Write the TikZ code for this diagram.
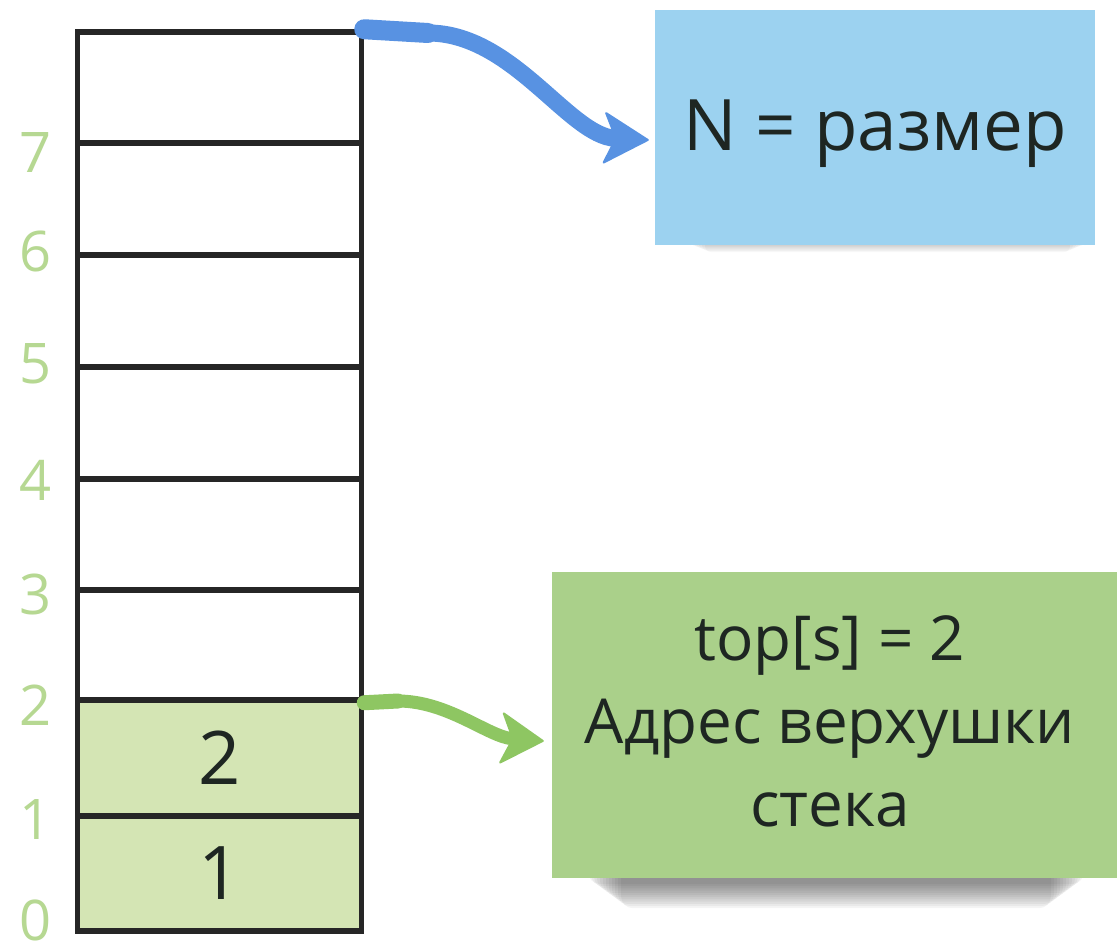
\documentclass[tikz,border=0pt]{standalone}
\usepackage{fontspec}
\setmainfont{Open Sans}
\usetikzlibrary{arrows.meta}

\definecolor{stackline}{RGB}{38,38,38}
\definecolor{idxgreen}{RGB}{182,216,146}
\definecolor{cellgreen}{RGB}{212,229,180}
\definecolor{boxgreen}{RGB}{170,208,138}
\definecolor{boxblue}{RGB}{156,210,240}
\definecolor{arrblue}{RGB}{88,146,226}
\definecolor{arrgreen}{RGB}{142,198,98}
\definecolor{ink}{RGB}{30,38,34}

\begin{document}
\begin{tikzpicture}[x=1pt,y=-1pt,
  cellbox/.style={draw=stackline, line width=5.5pt, minimum width=284pt,
    inner sep=0pt, text=ink, font=\fontsize{74}{74}\selectfont},
  filled/.style={fill=cellgreen},
  idx/.style={text=idxgreen, inner sep=0pt, font=\fontsize{56}{56}\selectfont},
  notebox/.style={inner sep=0pt},
  notetext/.style={inner sep=0pt, text=ink, align=center},
  stub/.style={line width=#1, line cap=round},
  bluetip/.style={-{Stealth[length=47pt, width=54pt, inset=12pt, line width=2pt, round]}},
  greentip/.style={-{Stealth[length=45pt, width=54pt, inset=12pt, line width=2pt, round]}}
]
\useasboundingbox (0,0) rectangle (1117,950);
\fill[white] (0,0) rectangle (1117,950);

% stack cells, bottom (0) to top (7)
\node[cellbox, filled, minimum height=115pt] (c0) at (219.5,873.5) {1};
\node[cellbox, filled, minimum height=116pt] (c1) at (219.5,758) {2};
\node[cellbox, minimum height=110pt] (c2) at (219.5,645) {};
\node[cellbox, minimum height=111pt] (c3) at (219.5,534.5) {};
\node[cellbox, minimum height=112pt] (c4) at (219.5,423) {};
\node[cellbox, minimum height=112pt] (c5) at (219.5,311) {};
\node[cellbox, minimum height=112pt] (c6) at (219.5,199) {};
\node[cellbox, minimum height=111pt] (c7) at (219.5,87.5) {};

% index labels
\node[idx] (i0) at (36,920) {0};
\node[idx] (i1) at (36,820) {1};
\node[idx] (i2) at (36,705) {2};
\node[idx] (i3) at (36,594) {3};
\node[idx] (i4) at (36,480) {4};
\node[idx] (i5) at (36,364) {5};
\node[idx] (i6) at (36,251) {6};
\node[idx] (i7) at (36,153) {7};

% soft shadows under the notes
\foreach \k in {0,...,11}{
  \fill[black, opacity=0.045, rounded corners=12pt]
    (588+\k*3,866) rectangle (1084-\k*3,884+\k*2.2);
}
\foreach \k in {0,...,5}{
  \fill[black, opacity=0.03, rounded corners=6pt]
    (690+\k*3,240) rectangle (1085-\k*3,246+\k*1.2);
}

% notes
\node[notebox, fill=boxblue, minimum width=440pt, minimum height=235pt] (nsize) at (875,127.5) {};
\node[notetext, font=\fontsize{71}{71}\selectfont, anchor=base] (nsizet) at (875,150) {N = размер};

\node[notebox, fill=boxgreen, minimum width=565pt, minimum height=306pt] (topbox) at (834.5,725) {};
\node[notetext, font=\fontsize{62}{83}\selectfont, anchor=base] (topt) at (830,826)
  {top[s] = 2\\Адрес верхушки\\стека};

% pointers
\coordinate (bstub) at (428,33);
\coordinate (gstub) at (398,701);
\draw[arrblue, stub=20pt] (c7.north east) -- (bstub);
\draw[arrblue, line width=17pt, bluetip]
  (bstub) .. controls +(85,0) and +(-80,-4) .. ([xshift=-6pt,yshift=-12.5pt]nsize.west);
\draw[arrgreen, stub=15pt] (c2.south east) -- (gstub);
\draw[arrgreen, line width=13pt, greentip]
  (gstub) .. controls +(50,0) and +(-55,-4) .. ([xshift=-8pt,yshift=-16pt]topbox.west);
\end{tikzpicture}
\end{document}
